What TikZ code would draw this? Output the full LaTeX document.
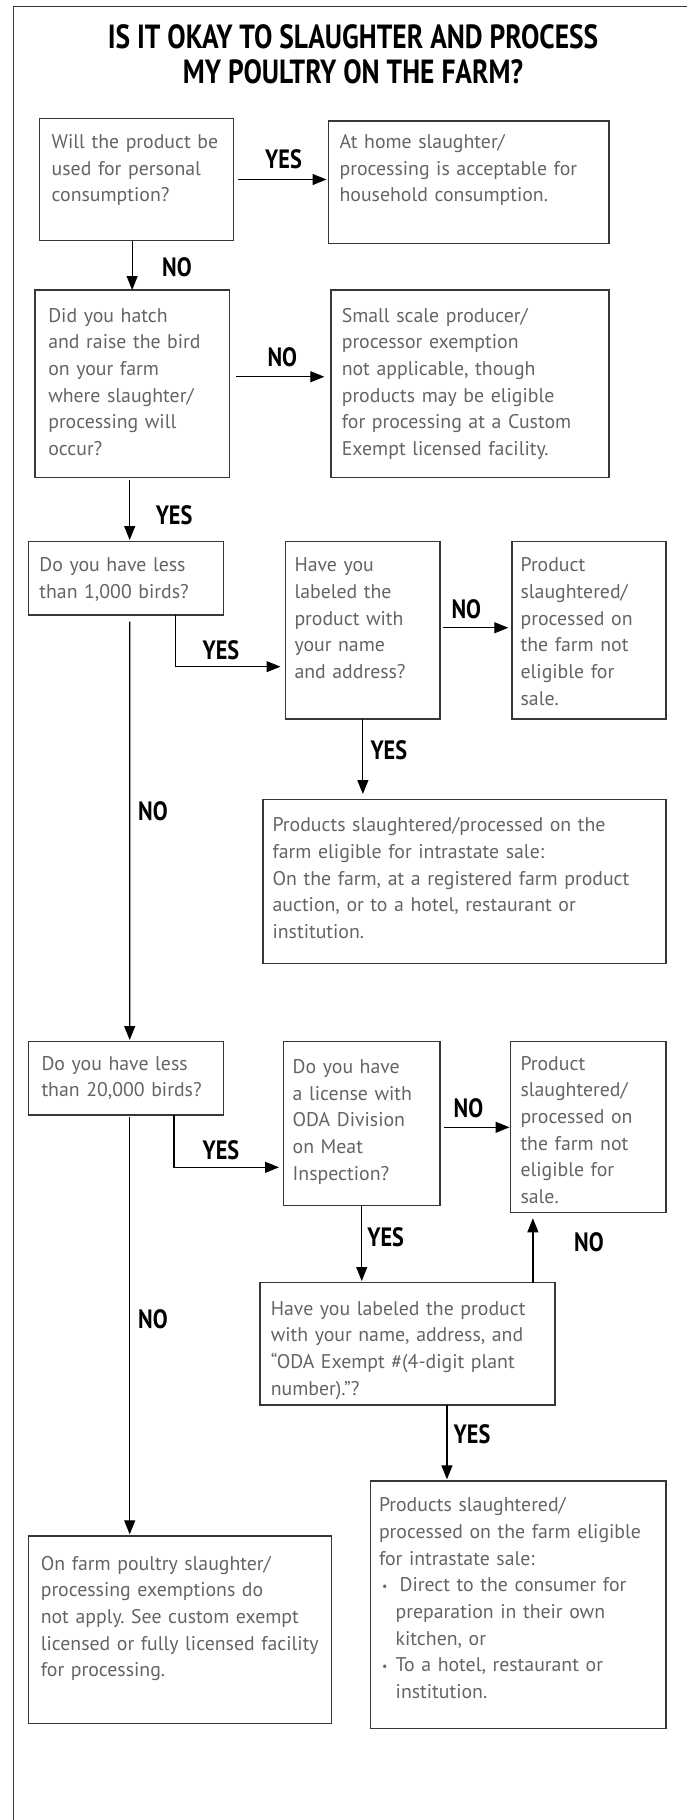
\documentclass[tikz,border=0pt]{standalone}
\usepackage{fontspec}
\setmainfont{PT Sans}
\newfontfamily\titlefont{PT Sans}[FakeStretch=0.82]
\newfontfamily\answerfont{PT Sans}[FakeStretch=0.84]
\usetikzlibrary{arrows.meta}
\definecolor{txtgray}{RGB}{99,100,102}
\definecolor{boxgray}{RGB}{55,55,55}
\frenchspacing
\newcommand{\boxlines}[1]{\begin{tabular}[t]{@{}l@{}}#1\end{tabular}}
\newcommand{\pindent}{\hspace*{16.7pt}}
\newcommand{\pbullet}{\makebox[16.7pt][l]{\hspace*{3.2pt}\raisebox{1.5pt}{\fontsize{12}{12}\selectfont\textbullet}}}

\begin{document}
\begin{tikzpicture}[>={Triangle[length=14pt, width=11pt]}, x=1pt, y=-1pt]
            \tikzset{box/.style = {draw=boxgray, line width=1.4pt, text=txtgray, anchor=north west, outer sep=0pt,
                                   inner ysep=0pt, align=left, font=\fontsize{19.8}{26.7}\selectfont}}
            \tikzset{answer/.style = {anchor=base west, inner sep=0pt, font=\answerfont\bfseries\fontsize{26.5}{26.5}\selectfont}}
            \tikzset{heading/.style = {anchor=base, inner sep=0pt, font=\titlefont\bfseries\fontsize{33.5}{33.5}\selectfont}}
            \tikzset{link/.style = {->, line width=1.2pt}}

            \useasboundingbox (0,0) rectangle (687,1820);
            \draw[line width=1.2pt, draw=boxgray] (13.3,1820) -- (13.3,6.6) -- (687,6.6);

            \node[heading] (title) at (353,48.3) {IS IT OKAY TO SLAUGHTER AND PROCESS};
            \node[heading] (subtitle) at (353,83.3) {MY POULTRY ON THE FARM?};

            \node[box, inner xsep=12.3pt, text width=169.6pt, text height=30pt, text depth=92.4pt] (personal) at (39.4,118.3)
                {\boxlines{Will the product be\\ used for personal\\ consumption?}};
            \node[box, inner xsep=10.9pt, text width=258.6pt, text height=27.3pt, text depth=95pt] (home) at (328.7,121)
                {\boxlines{At home slaughter/\\ processing is acceptable for\\ household consumption.}};

            \node[box, inner xsep=13.3pt, text width=167.7pt, text height=32pt, text depth=155.7pt] (hatch) at (35,290)
                {\boxlines{Did you hatch\\ and raise the bird\\ on your farm\\ where slaughter/\\ processing will\\ occur?}};
            \node[box, inner xsep=10.9pt, text width=256.4pt, text height=32pt, text depth=155.7pt] (notappl) at (330.9,290)
                {\boxlines{Small scale producer/\\ processor exemption\\ not applicable, though\\ products may be eligible\\ for processing at a Custom\\ Exempt licensed facility.}};

            \node[box, inner xsep=10.9pt, text width=173.2pt, text height=30pt, text depth=43.3pt] (less1k) at (28.5,541.7)
                {\boxlines{Do you have less\\ than 1,000 birds?}};
            \node[box, inner xsep=8.8pt, text width=136.7pt, text height=30pt, text depth=147.3pt] (label1) at (285.7,541.7)
                {\boxlines{Have you\\ labeled the\\ product with\\ your name\\ and address?}};
            \node[box, inner xsep=8.8pt, text width=136.6pt, text height=30pt, text depth=147.3pt] (nosale1) at (511.8,541.7)
                {\boxlines{Product\\ slaughtered/\\ processed on\\ the farm not\\ eligible for\\ sale.}};
            \node[box, inner xsep=9.7pt, text width=383.7pt, text height=32.4pt, text depth=131.6pt] (sale1) at (262.9,799.3)
                {\boxlines{Products slaughtered/processed on the\\ farm eligible for intrastate sale:\\ On the farm, at a registered farm product\\ auction, or to a hotel, restaurant or\\ institution.}};

            \node[box, inner xsep=13pt, text width=169pt, text height=28.3pt, text depth=45pt] (less20k) at (28.5,1041.7)
                {\boxlines{Do you have less\\ than 20,000 birds?}};
            \node[box, inner xsep=9.2pt, text width=138.1pt, text height=31.6pt, text depth=132.4pt] (license) at (283.5,1041.7)
                {\boxlines{Do you have\\ a license with\\ ODA Division\\ on Meat\\ Inspection?}};
            \node[box, inner xsep=10pt, text width=135.5pt, text height=28.3pt, text depth=142.7pt] (nosale2) at (510.5,1041.7)
                {\boxlines{Product\\ slaughtered/\\ processed on\\ the farm not\\ eligible for\\ sale.}};
            \node[box, inner xsep=10.9pt, text width=273.1pt, text height=32.3pt, text depth=90pt] (label2) at (259.9,1282.7)
                {\boxlines{Have you labeled the product\\ with your name, address, and\\ “ODA Exempt \#(4-digit plant\\ number).”?}};

            \node[box, inner xsep=8.7pt, text width=278.3pt, text height=30.7pt, text depth=216.6pt] (sale2) at (370.3,1481)
                {\boxlines{Products slaughtered/\\ processed on the farm eligible\\ for intrastate sale:\\
                 \pbullet\hspace{3.9pt}Direct to the consumer for\\ \pindent preparation in their own\\ \pindent kitchen, or\\
                 \pbullet To a hotel, restaurant or\\ \pindent institution.}};
            \node[box, inner xsep=12.3pt, text width=278.6pt, text height=34pt, text depth=153.3pt] (noexempt) at (28.5,1536)
                {\boxlines{On farm poultry slaughter/\\ processing exemptions do\\ not apply. See custom exempt\\ licensed or fully licensed facility\\ for processing.}};

            \draw[link, shorten <=4.4pt, shorten >=2.2pt] (personal.east) -- (personal.east -| home.west);
            \draw[link] (personal.south -| hatch.north) -- (hatch.north);
            \draw[link, shorten <=6.5pt, shorten >=6.6pt] ([yshift=7.1pt]hatch.east) -- ([yshift=7.1pt]hatch.east -| notappl.west);
            \draw[link, shorten <=2.3pt, shorten >=1.7pt] ([xshift=3.7pt]less1k.north |- hatch.south) -- ([xshift=3.7pt]less1k.north);

            \draw[link, shorten >=5.2pt] ([xshift=49.3pt]less1k.south) |- ([yshift=-36.3pt]label1.west);
            \draw[link, shorten <=2.6pt, shorten >=3.5pt] ([yshift=2.6pt]label1.east) -- ([yshift=2.6pt]label1.east -| nosale1.west);
            \draw[link, shorten >=5.3pt] (label1.south) -- (label1.south |- sale1.north);
            \draw[link, shorten <=6.7pt, shorten >=1.7pt] ([xshift=3.7pt]less1k.south) -- ([xshift=3.7pt]less20k.north);

            \draw[link, shorten >=4.5pt] ([xshift=48pt]less20k.south) |- ([yshift=-43.6pt]license.west);
            \draw[link, shorten <=3.5pt, shorten >=1pt] ([yshift=-3.6pt]license.east) -- ([yshift=-3.6pt]license.east -| nosale2.west);
            \draw[link, shorten >=1.7pt] (license.south) -- (license.south |- label2.north);
            \draw[link, shorten >=5.6pt] ([xshift=-21.9pt]label2.north east) -- ([xshift=-21.9pt]label2.north east |- nosale2.south);
            \draw[link, shorten >=1.7pt] ([xshift=39.6pt]label2.south) -- ([xshift=39.6pt]label2.south |- sale2.north);
            \draw[link, shorten <=1.7pt, shorten >=1.7pt] ([xshift=3.7pt]less20k.south) -- ([xshift=3.7pt]less20k.south |- noexempt.north);

            \node[answer] (yes1) at (265,168.3) {YES};
            \node[answer] (no1) at (162,276.7) {NO};
            \node[answer] (no2) at (267.3,366.7) {NO};
            \node[answer] (yes2) at (155.6,524) {YES};
            \node[answer] (yes3) at (202.5,659.3) {YES};
            \node[answer] (no3) at (451.4,618.3) {NO};
            \node[answer] (yes4) at (370.3,759.3) {YES};
            \node[answer] (no4) at (138,820) {NO};
            \node[answer] (yes5) at (202.5,1159.3) {YES};
            \node[answer] (no5) at (453.5,1117.7) {NO};
            \node[answer] (yes6) at (367.2,1246) {YES};
            \node[answer] (no6) at (574,1251.7) {NO};
            \node[answer] (no7) at (138,1328.3) {NO};
            \node[answer] (yes7) at (453.5,1443.3) {YES};
\end{tikzpicture}
\end{document}
